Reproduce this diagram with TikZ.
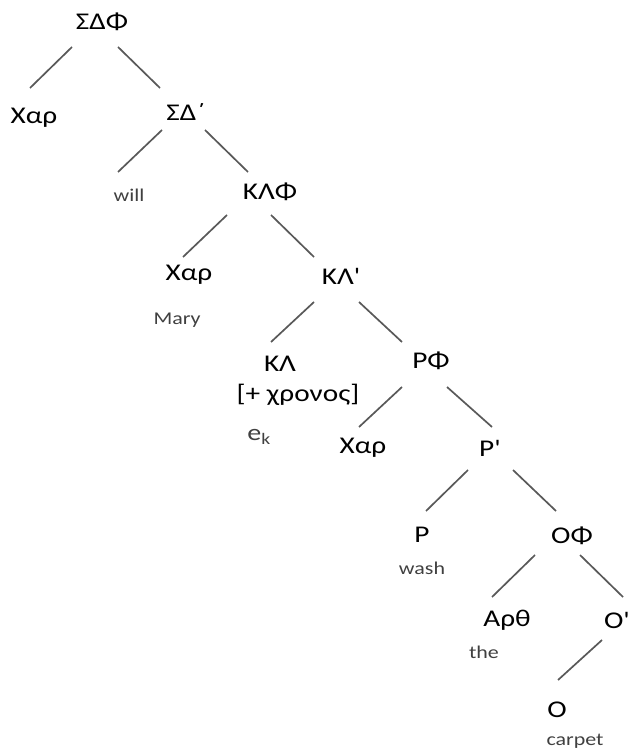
\documentclass[tikz,border=0pt]{standalone}
\usepackage{fontspec}
\setmainfont{Carlito}[Ligatures=TeXOff, FakeStretch=1.22]

\begin{document}
\begin{tikzpicture}[x=1pt,y=-1pt,
    cat/.style={font=\fontsize{24}{28}\selectfont, text=black, inner sep=0pt},
    word/.style={font=\fontsize{18}{21}\selectfont, text=black!75, inner sep=0pt},
    branch/.style={draw=black!65, line width=1.7pt}]
    \useasboundingbox (0,0) rectangle (631,751);

    % Categories
    \node[cat] (sdf) at (102,22) {ΣΔΦ};
    \node[cat] (xar1) at (34,118) {Χαρ};
    \node[cat] (sdb) at (186,112) {ΣΔ΄};
    \node[cat] (klf) at (270,192) {ΚΛΦ};
    \node[cat] (xar2) at (189,275) {Χαρ};
    \node[cat] (klb) at (341,276) {ΚΛ'};
    \node[cat] (kl) at (280,364) {ΚΛ};
    \node[cat] (tense) at (298,395) {[+ χρονος]};
    \node[cat] (rf) at (431,361) {ΡΦ};
    \node[cat] (xar3) at (363,448) {Χαρ};
    \node[cat] (rb) at (490,448) {Ρ'};
    \node[cat] (r) at (422,535) {Ρ};
    \node[cat] (of) at (572,536) {ΟΦ};
    \node[cat] (arth) at (507,620) {Αρθ};
    \node[cat] (ob) at (617,620) {Ο'};
    \node[cat] (o) at (557,710) {Ο};

    % Words
    \node[word] (will) at (129,195) {will};
    \node[word] (mary) at (177,320) {Mary};
    \node[word, font=\fontsize{23}{27}\selectfont] (ek) at (259,437) {e\textsubscript{k}};
    \node[word] (wash) at (422,568) {wash};
    \node[word] (the) at (484,652) {the};
    \node[word] (carpet) at (575,741) {carpet};

    % Branches
    \draw[branch] ([shift={(-30,25)}]sdf.center) -- ([shift={(-4,-30)}]xar1.center);
    \draw[branch] ([shift={(16,25)}]sdf.center) -- ([shift={(-26,-24)}]sdb.center);
    \draw[branch] ([shift={(-24,18)}]sdb.center) -- ([shift={(-11,-23)}]will.center);
    \draw[branch] ([shift={(19,18)}]sdb.center) -- ([shift={(-22,-20)}]klf.center);
    \draw[branch] ([shift={(-43,23)}]klf.center) -- ([shift={(-6,-18)}]xar2.center);
    \draw[branch] ([shift={(1,23)}]klf.center) -- ([shift={(-27,-19)}]klb.center);
    \draw[branch] ([shift={(-27,26)}]klb.center) -- ([shift={(-9,-22)}]kl.center);
    \draw[branch] ([shift={(18,26)}]klb.center) -- ([shift={(-29,-19)}]rf.center);
    \draw[branch] ([shift={(-29,26)}]rf.center) -- ([shift={(-4,-21)}]xar3.center);
    \draw[branch] ([shift={(16,26)}]rf.center) -- ([shift={(2,-21)}]rb.center);
    \draw[branch] ([shift={(-22,22)}]rb.center) -- ([shift={(4,-24)}]r.center);
    \draw[branch] ([shift={(23,22)}]rb.center) -- ([shift={(-16,-25)}]of.center);
    \draw[branch] ([shift={(-37,19)}]of.center) -- ([shift={(-15,-23)}]arth.center);
    \draw[branch] ([shift={(8,19)}]of.center) -- ([shift={(6,-23)}]ob.center);
    \draw[branch] ([shift={(-15,20)}]ob.center) -- ([shift={(1,-30)}]o.center);
\end{tikzpicture}
\end{document}
